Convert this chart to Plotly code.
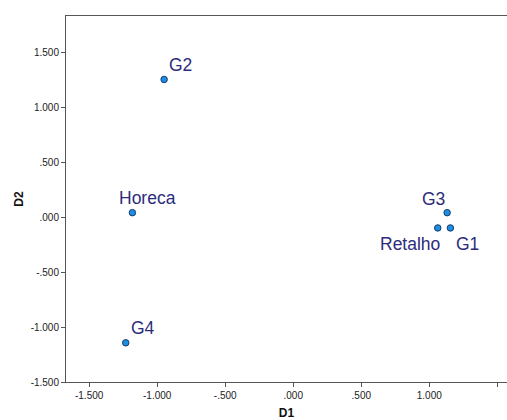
import plotly.graph_objects as go

# Category coordinates on the two dimensions
labels = ["G1", "G2", "G3", "G4", "Horeca", "Retalho"]
d1 = [1.155, -0.949, 1.131, -1.231, -1.182, 1.062]
d2 = [-0.097, 1.255, 0.042, -1.143, 0.042, -0.097]

tick_vals = [-1.5, -1.0, -0.5, 0.0, 0.5, 1.0, 1.5]
tick_text = ["-1.500", "-1.000", "-.500", ".000", ".500", "1.000", "1.500"]

# label placement per point: (xanchor, yanchor, xshift, yshift)
placement = {
    "G1": ("left", "top", 4, -4),
    "G2": ("left", "bottom", 3, 2),
    "G3": ("right", "bottom", 0, 2),
    "G4": ("left", "bottom", 3, 3),
    "Horeca": ("center", "bottom", 15, 3),
    "Retalho": ("right", "top", 4, -4),
}

fig = go.Figure()
fig.add_trace(go.Scatter(
    x=d1, y=d2, mode="markers",
    marker=dict(size=6.5, color="#1a8fe3", line=dict(color="#1b3a6b", width=1)),
    hoverinfo="text", text=labels, showlegend=False,
))

for name, x, y in zip(labels, d1, d2):
    xa, ya, xs, ys = placement[name]
    fig.add_annotation(
        x=x, y=y, text=name, showarrow=False,
        xanchor=xa, yanchor=ya, xshift=xs, yshift=ys,
        font=dict(family="Liberation Sans, Arial, sans-serif", size=17.5, color="#2c2c7c"),
    )

axis_common = dict(
    tickvals=tick_vals, ticktext=tick_text,
    ticks="outside", ticklen=4, tickcolor="#555555", tickwidth=1,
    showline=True, linecolor="#555555", linewidth=1,
    showgrid=False, zeroline=False,
    tickfont=dict(family="Liberation Sans, Arial, sans-serif", size=10, color="#222222"),
)

fig.update_xaxes(
    range=[-1.670, 1.571], mirror=True,
    title=dict(text="<b>D1</b>", standoff=8,
               font=dict(family="Liberation Sans, Arial, sans-serif", size=12, color="#111111")),
    **axis_common,
)
fig.update_yaxes(
    range=[-1.5, 1.833],
    title=dict(text="<b>D2</b>", standoff=4,
               font=dict(family="Liberation Sans, Arial, sans-serif", size=12, color="#111111")),
    **axis_common,
)

fig.update_layout(
    width=507, height=420,
    margin=dict(l=66, r=0, t=16, b=38),
    paper_bgcolor="white", plot_bgcolor="white",
)

fig.write_html("out.html")
